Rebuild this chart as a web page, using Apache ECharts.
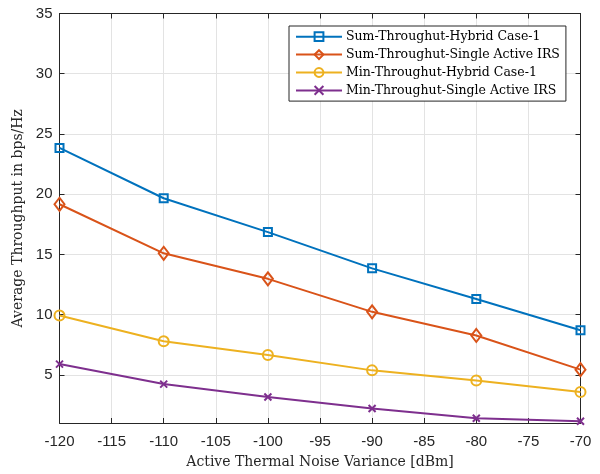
<!DOCTYPE html>
<html>
<head>
<meta charset="utf-8">
<script src="https://cdn.jsdelivr.net/npm/echarts@6/dist/echarts.min.js"></script>
<style>html,body{margin:0;padding:0;background:#fff;}#c{width:600px;height:474px;}</style>
</head>
<body>
<div id="c"></div>
<script>
const xValues = [-120, -110, -100, -90, -80, -70];
const sumHybrid = [23.84, 19.66, 16.85, 13.84, 11.29, 8.70];
const sumSingle = [19.16, 15.09, 12.97, 10.23, 8.27, 5.43];
const minHybrid = [9.92, 7.79, 6.65, 5.37, 4.52, 3.58];
const minSingle = [5.89, 4.23, 3.16, 2.20, 1.39, 1.14];
const seriesNames = [
  'Sum-Throughut-Hybrid Case-1',
  'Sum-Throughut-Single Active IRS',
  'Min-Throughut-Hybrid Case-1',
  'Min-Throughut-Single Active IRS'
];
const yTicks = [5, 10, 15, 20, 25, 30, 35];

const colors = ['#0072BD', '#D95319', '#EDB120', '#7E2F8E'];
const symbols = [
  'path://M0,0H10V10H0Z',
  'path://M5,0L10,7L5,14L0,7Z',
  'path://M5,0A5,5 0 1 1 4.999,0Z',
  'path://M0,0L10,10M10,0L0,10'
];
const symSizes = [[8, 8], [10, 13], [10, 10], [7, 7]];
const dataSets = [sumHybrid, sumSingle, minHybrid, minSingle];
const axisColor = '#262626';
const serif = 'DejaVu Serif';

const chart = echarts.init(document.getElementById('c'), null, {renderer: 'canvas'});
const series = dataSets.map((d, i) => ({
  name: seriesNames[i],
  type: 'line',
  data: xValues.map((x, j) => [x, d[j]]),
  symbol: symbols[i],
  symbolSize: symSizes[i],
  showAllSymbol: true,
  lineStyle: {color: colors[i], width: 2},
  itemStyle: {color: 'none', borderColor: colors[i], borderWidth: 2},
  emphasis: {disabled: true},
  z: 2 + i,
  animation: false
}));

const xBase = {
  type: 'value', min: -120, max: -70, interval: 5
};
chart.setOption({
  backgroundColor: '#fff',
  animation: false,
  grid: {left: 59.5, right: 19.5, top: 13.5, bottom: 49, containLabel: false},
  legend: {
    orient: 'vertical',
    left: 289, top: 26,
    padding: [3.7, 6, 3.7, 6],
    itemGap: 3.9,
    itemWidth: 46, itemHeight: 11,
    backgroundColor: '#fff',
    borderColor: axisColor, borderWidth: 1,
    textStyle: {fontFamily: serif, fontSize: 12.5, lineHeight: 14, height: 14, color: '#000', padding: [0, 0, 0, -1]},
    data: seriesNames
  },
  xAxis: [
    Object.assign({}, xBase, {
      position: 'bottom',
      name: 'Active Thermal Noise Variance [dBm]',
      nameLocation: 'middle', nameGap: 32,
      nameTextStyle: {fontFamily: serif, fontSize: 14, color: axisColor},
      axisLine: {show: true, onZero: false, lineStyle: {color: axisColor, width: 1}},
      axisTick: {show: true, inside: true, length: 5, lineStyle: {color: axisColor}},
      axisLabel: {fontFamily: 'Liberation Sans', fontSize: 15, color: axisColor, margin: 11},
      splitLine: {show: true, lineStyle: {color: '#e3e3e3', width: 1}}
    }),
    Object.assign({}, xBase, {
      position: 'top',
      axisLine: {show: true, onZero: false, lineStyle: {color: axisColor, width: 1}},
      axisTick: {show: true, inside: true, length: 5, lineStyle: {color: axisColor}},
      axisLabel: {show: false},
      splitLine: {show: false}
    })
  ],
  yAxis: [
    {
      type: 'value', min: 1, max: 35, position: 'left',
      name: 'Average Throughput in bps/Hz',
      nameLocation: 'middle', nameGap: 32,
      nameTextStyle: {fontFamily: serif, fontSize: 14, color: axisColor},
      axisLine: {show: true, onZero: false, lineStyle: {color: axisColor, width: 1}},
      axisTick: {show: true, inside: true, length: 5, customValues: yTicks, lineStyle: {color: axisColor}},
      axisLabel: {fontFamily: 'Liberation Sans', fontSize: 15, color: axisColor, margin: 7, customValues: yTicks},
      splitLine: {show: true, lineStyle: {color: '#e3e3e3', width: 1}}
    },
    {
      type: 'value', min: 1, max: 35, position: 'right',
      axisLine: {show: true, onZero: false, lineStyle: {color: axisColor, width: 1}},
      axisTick: {show: true, inside: true, length: 5, customValues: yTicks, lineStyle: {color: axisColor}},
      axisLabel: {show: false, customValues: yTicks},
      splitLine: {show: false}
    }
  ],
  series: series
});
</script>
</body>
</html>
